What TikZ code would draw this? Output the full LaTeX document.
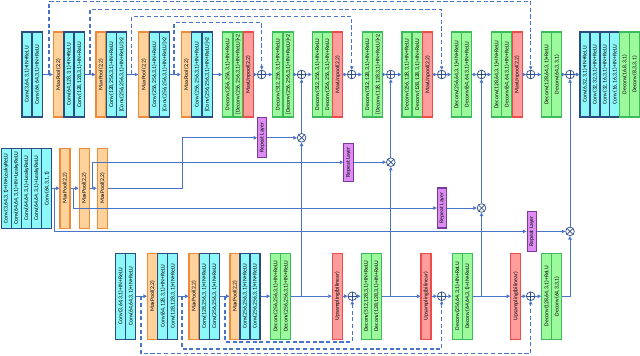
\documentclass[tikz,border=0pt]{standalone}
\usepackage{fontspec}
\setmainfont{Carlito}
\usetikzlibrary{arrows.meta}
\definecolor{cyf}{HTML}{8CF8FA}
\definecolor{cyd}{HTML}{2B4C7E}
\definecolor{ogf}{HTML}{FFD29C}
\definecolor{ogd}{HTML}{EE8A3A}
\definecolor{grf}{HTML}{9CFA9C}
\definecolor{grd}{HTML}{3DBB5C}
\definecolor{rdf}{HTML}{FF9C9C}
\definecolor{rdd}{HTML}{EE4B4B}
\definecolor{puf}{HTML}{DC8CF2}
\definecolor{pud}{HTML}{7A3A9A}
\definecolor{lnc}{HTML}{4A74C8}
\definecolor{crc}{HTML}{2F4F8A}
\newcommand{\topbx}[4]{\node[#2,toprow] (#1) at (#3,74.5) {#4};}
\newcommand{\midbx}[4]{\node[#2,midrow] (#1) at (#3,188.3) {#4};}
\newcommand{\botbx}[4]{\node[#2,botrow] (#1) at (#3,296.2) {#4};}
\begin{document}
\begin{tikzpicture}[x=0.03cm,y=-0.03cm,
  blk/.style={draw, rotate=90, line width=0.9pt, inner sep=0pt, minimum height=0.3cm, align=center, font=\fontsize{4.9}{5}\selectfont},
  cy/.style={blk, fill=cyf, draw=cyd},
  og/.style={blk, fill=ogf, draw=ogd},
  gr/.style={blk, fill=grf, draw=grd},
  rd/.style={blk, fill=rdf, draw=rdd},
  pu/.style={blk, fill=puf, draw=pud, minimum height=0.28cm, minimum width=1.2cm},
  toprow/.style={minimum width=2.55cm},
  midrow/.style={minimum width=2.4cm},
  botrow/.style={minimum width=2.58cm},
  ln/.style={draw=lnc, line width=0.75pt},
  arr/.style={ln, -{Triangle[length=3pt,width=3pt]}},
  dsh/.style={arr, line width=0.9pt, dash pattern=on 3.5pt off 2.2pt},
  pl/.style={circle, draw=crc, line width=0.6pt, fill=white, minimum size=0.26cm, inner sep=0pt},
  crs/.style={draw=crc, line width=0.6pt}
]
\useasboundingbox (0,0) rectangle (640,355);

% ---------------- top row ----------------
\topbx{t1}{cy}{27}{Conv(3,64,3,1)+IN+ReLU}
\topbx{t2}{cy}{37.2}{Conv(64,64,3,1)+IN+ReLU}
\topbx{t3}{og}{58.3}{MaxPool(2,2)}
\topbx{t4}{cy}{69}{Conv(64,128,3,1)+IN+ReLU}
\topbx{t5}{cy}{79.5}{Conv(128,128,3,1)+IN+ReLU}
\topbx{t6}{og}{101}{MaxPool(2,2)}
\topbx{t7}{cy}{111.3}{Conv(128,256,3,1)+IN+ReLU}
\topbx{t8}{cy}{121.7}{[Conv(256,256,3,1)+IN+ReLU]×2}
\topbx{t9}{og}{143.8}{MaxPool(2,2)}
\topbx{t10}{cy}{154.3}{Conv(256,256,3,1)+IN+ReLU}
\topbx{t11}{cy}{164.6}{[Conv(256,256,3,1)+IN+ReLU]×2}
\topbx{t12}{og}{186.3}{MaxPool(2,2)}
\topbx{t13}{cy}{196.8}{Conv(256,256,3,1)+IN+ReLU}
\topbx{t14}{cy}{207.1}{[Conv(256,256,3,1)+IN+ReLU]×2}
\topbx{t15}{gr}{227.7}{Deconv(256,256,3,1)+IN+ReLU}
\topbx{t16}{gr}{238}{[Deconv(256,256,3,1)+IN+ReLU]×2}
\topbx{t17}{rd}{248.3}{MaxUnpool(2,2)}
\node[pl] (p1) at (261.7,74.5) {};
\topbx{t18}{gr}{277.9}{Deconv(512,256,3,1)+IN+ReLU}
\topbx{t19}{gr}{288.2}{[Deconv(256,256,3,1)+IN+ReLU]×2}
\node[pl] (p2) at (301.6,74.5) {};
\topbx{t20}{gr}{317.3}{Deconv(512,256,3,1)+IN+ReLU}
\topbx{t21}{gr}{327.5}{Deconv(256,256,3,1)+IN+ReLU}
\topbx{t22}{rd}{337.7}{MaxUnpool(2,2)}
\node[pl] (p3) at (351.7,74.5) {};
\topbx{t23}{gr}{367.5}{Deconv(512,128,3,1)+IN+ReLU}
\topbx{t24}{gr}{377.8}{[Deconv(128,128,3,1)+IN+ReLU]×2}
\node[pl] (p4) at (390.8,74.5) {};
\topbx{t25}{gr}{407}{Deconv(256,128,3,1)+IN+ReLU}
\topbx{t26}{gr}{417.4}{Deconv(128,128,3,1)+IN+ReLU}
\topbx{t27}{rd}{427.7}{MaxUnpool(2,2)}
\node[pl] (p5) at (441.7,74.5) {};
\topbx{t28}{gr}{456.7}{Deconv(256,64,3,1)+IN+ReLU}
\topbx{t29}{gr}{466.9}{Deconv(64,64,3,1)+IN+ReLU}
\node[pl] (p6) at (481.5,74.5) {};
\topbx{t30}{gr}{496.7}{Deconv(128,64,3,1)+IN+ReLU}
\topbx{t31}{gr}{506.9}{Deconv(64,64,3,1)+IN+ReLU}
\topbx{t32}{rd}{517.1}{MaxUnpool(2,2)}
\node[pl] (p7) at (530.7,74.5) {};
\topbx{t33}{gr}{546.7}{Deconv(128,64,3,1)+ReLU}
\topbx{t34}{gr}{556.8}{Deconv(64,3,3,1)}
\node[pl] (p8) at (570,74.5) {};
\topbx{t35}{cy}{585}{Conv(6,32,3,1)+IN+ReLU}
\topbx{t36}{cy}{595}{Conv(32,32,3,1)+IN+ReLU}
\topbx{t37}{cy}{605}{Conv(32,16,3,1)+IN+ReLU}
\topbx{t38}{cy}{614.9}{Conv(16,16,3,1)+IN+ReLU}
\topbx{t39}{gr}{624.7}{Deconv(16,8,3,1)}
\topbx{t40}{gr}{634.6}{Deconv(8,3,3,1)}

\foreach \a/\b in {t2/t3,t5/t6,t8/t9,t11/t12,t14/t15,t17/p1,p1/t18,t19/p2,p2/t20,t22/p3,p3/t23,t24/p4,p4/t25,t27/p5,p5/t28,t29/p6,p6/t30,t32/p7,p7/t33,t34/p8,p8/t35}
  \draw[arr] (\a) -- (\b);

% top skip connections (dashed)
\coordinate (d1) at (49,74.5);
\coordinate (d2) at (90,74.5);
\coordinate (d3) at (131.5,74.5);
\coordinate (d4) at (174,74.5);
\draw[dsh] (d1) -- ++(0,-73) -| (p7);
\draw[dsh] (d2) -- ++(0,-65.2) -| (p5);
\draw[dsh] (d3) -- ++(0,-58) -| (p3);
\draw[dsh] (d4) -- ++(0,-51.8) -| (p1);

% ---------------- middle block ----------------
\midbx{m1}{cy}{6.1}{Conv(3,64,3,1)+IN+LeakyReLU}
\midbx{m2}{cy}{16.2}{Conv(64,64,3,1)+IN+LeakyReLU}
\midbx{m3}{cy}{26.4}{Conv(64,64,3,1)+LeakyReLU}
\midbx{m4}{cy}{36.6}{Conv(64,64,3,1)+LeakyReLU}
\midbx{m5}{cy}{46.9}{Conv(64,3,1,1)}
\midbx{mp1}{og}{65}{MaxPool(2,2)}
\midbx{mp2}{og}{84.2}{MaxPool(2,2)}
\midbx{mp3}{og}{102.3}{MaxPool(2,2)}
\draw[arr] (m5) -- (mp1);
\draw[arr] (mp1) -- (mp2);
\draw[arr] (mp2) -- (mp3);

\node[pu] (r1) at (262.3,137.8) {Repeat Layer};
\node[pu,minimum width=1.14cm] (r2) at (348.5,162.2) {Repeat Layer};
\node[pu] (r3) at (442,208) {Repeat Layer};
\node[pu] (r4) at (531.7,231.4) {Repeat Layer};
\node[pl] (x1) at (301.6,137.8) {};
\node[pl] (x2) at (390.8,162.2) {};
\node[pl] (x3) at (481.5,208) {};
\node[pl] (x4) at (570,231.4) {};

\coordinate (a1) at (54.5,188.3);
\coordinate (a2) at (73.5,188.3);
\coordinate (a3) at (92.5,188.3);
\coordinate (k1) at (182,188.3);
\draw[arr] (a1) |- (r4);
\draw[arr] (a2) |- (r3);
\draw[arr] (a3) |- (r2);
\draw[arr] (mp3) -- (k1) |- (r1);
\draw[arr] (r1) -- (x1);
\draw[arr] (r2) -- (x2);
\draw[arr] (r3) -- (x3);
\draw[arr] (r4) -- (x4);
\draw[arr] (x1) -- (p2);
\draw[arr] (x2) -- (p4);
\draw[arr] (x3) -- (p6);
\draw[arr] (x4) -- (p8);

% ---------------- bottom row ----------------
\botbx{b1}{cy}{120.7}{Conv(3,64,3,1)+IN+ReLU}
\botbx{b2}{cy}{130.8}{Conv(64,64,3,1)+IN+ReLU}
\botbx{b3}{og}{152.5}{MaxPool(2,2)}
\botbx{b4}{cy}{162.8}{Conv(64,128,3,1)+IN+ReLU}
\botbx{b5}{cy}{172.9}{Conv(128,128,3,1)+IN+ReLU}
\botbx{b6}{og}{194}{MaxPool(2,2)}
\botbx{b7}{cy}{204.2}{Conv(128,256,3,1)+IN+ReLU}
\botbx{b8}{cy}{214.3}{Conv(256,256,3,1)+IN+ReLU}
\botbx{b9}{og}{235}{MaxPool(2,2)}
\botbx{b10}{cy}{245}{Conv(256,256,3,1)+IN+ReLU}
\botbx{b11}{cy}{255}{Conv(256,256,3,1)+IN+ReLU}
\botbx{b12}{gr}{275.7}{Deconv(256,256,3,1)+IN+ReLU}
\botbx{b13}{gr}{285.8}{Deconv(256,256,3,1)+IN+ReLU}
\botbx{b14}{rd}{337.3}{Upsampling(bilinear)}
\node[pl] (q1) at (352.3,296.2) {};
\botbx{b15}{gr}{366.1}{Deconv(512,128,3,1)+IN+ReLU}
\botbx{b16}{gr}{376.3}{Deconv(128,128,3,1)+IN+ReLU}
\botbx{b17}{rd}{426}{Upsampling(bilinear)}
\node[pl] (q2) at (441.7,296.2) {};
\botbx{b18}{gr}{457.3}{Deconv(256,64,3,1)+IN+ReLU}
\botbx{b19}{gr}{467.4}{Deconv(64,64,3,1)+IN+ReLU}
\botbx{b20}{rd}{515.7}{Upsampling(bilinear)}
\node[pl] (q3) at (530.7,296.2) {};
\botbx{b21}{gr}{546.7}{Deconv(128,64,3,1)+ReLU}
\botbx{b22}{gr}{556.8}{Deconv(64,3,3,1)}

\foreach \a/\b in {b2/b3,b5/b6,b8/b9,b11/b12,b13/b14,b14/q1,q1/b15,b16/b17,b17/q2,q2/b18,b19/b20,b20/q3,q3/b21}
  \draw[arr] (\a) -- (\b);
\draw[arr] (b22) -| (x4);

% branches from bottom row up to the multiplications
\coordinate (u1) at (301.6,296.2);
\coordinate (u2) at (390.8,296.2);
\coordinate (u3) at (481.5,296.2);
\draw[arr] (u1) -- (x1);
\draw[arr] (u2) -- (x2);
\draw[arr] (u3) -- (x3);

% bottom skip connections (dashed)
\coordinate (e1) at (141,296.2);
\coordinate (e2) at (182,296.2);
\coordinate (e3) at (225,296.2);
\draw[dsh] (e1) -- ++(0,57.3) -| (q3);
\draw[dsh] (e2) -- ++(0,52.8) -| (q2);
\draw[dsh] (e3) -- ++(0,45.8) -| (q1);

% symbols inside circles
\foreach \n in {p1,p2,p3,p4,p5,p6,p7,p8,q1,q2,q3}
  \draw[crs] (\n.north) -- (\n.south) (\n.west) -- (\n.east);
\foreach \n in {x1,x2,x3,x4}
  \draw[crs] (\n.north west) -- (\n.south east) (\n.north east) -- (\n.south west);
\end{tikzpicture}
\end{document}
